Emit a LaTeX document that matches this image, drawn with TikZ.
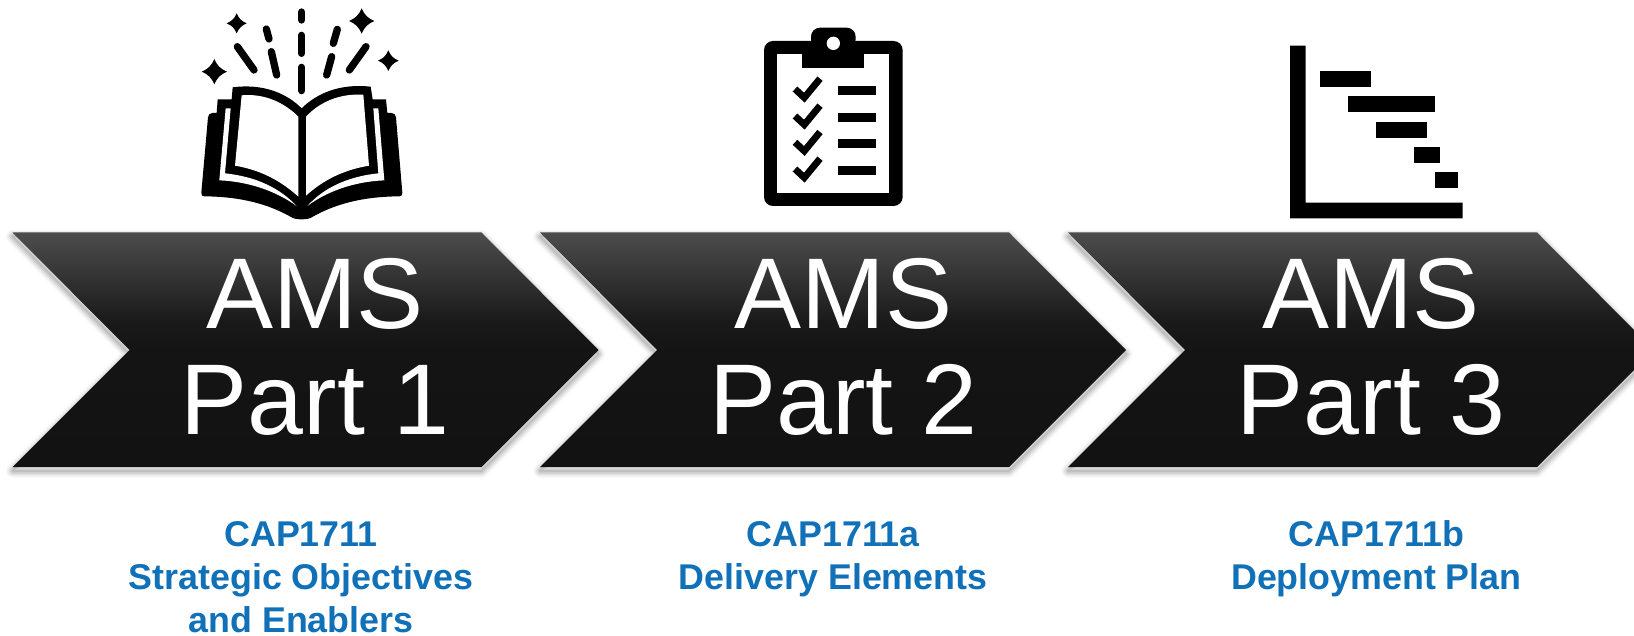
\documentclass[tikz,border=0pt]{standalone}
\usepackage{fontspec}
\setmainfont{Liberation Sans}
\definecolor{capblue}{HTML}{1070B8}
\pgfdeclareverticalshading{chevshade}{100bp}{color(0bp)=(black!93); color(25bp)=(black!93); color(50bp)=(black!92); color(56bp)=(black!90); color(75bp)=(black!70); color(100bp)=(black!70)}
\tikzset{
  bigtext/.style={text=white,anchor=base,inner sep=0pt,font=\fontsize{100.5}{105}\selectfont},
  captext/.style={text=capblue,anchor=base,inner sep=0pt,font=\fontsize{35.8}{42}\selectfont\bfseries},
  ink/.style={fill=black,draw=none},
  paper/.style={fill=white,draw=none},
  ray/.style={draw=black,line width=7.3pt,line cap=round},
  tick/.style={draw=black,line width=6.8pt,miter limit=10}
}
\newcommand{\chevpath}[1]{(#1,232.5) -- ++(469,0) -- ++(117,117.5) -- ++(-117,117) -- ++(-469,0) -- ++(117,-117) -- cycle}
\newcommand{\chevron}[1]{%
  \foreach \w/\o in {14/.025,11/.04,8/.06,5/.07,2/.08}{
    \draw[line width=\w pt,black,opacity=\o,line join=round,yshift=-4pt] \chevpath{#1};
  }
  \shade[shading=chevshade] \chevpath{#1};
}
\newcommand{\sparkle}[3]{\fill[black,shift={(#1,#2)},scale=#3] (-1,0) .. controls (-.45,-.25) and (-.25,-.45) .. (0,-1) .. controls (.25,-.45) and (.45,-.25) .. (1,0) .. controls (.45,.25) and (.25,.45) .. (0,1) .. controls (-.25,.45) and (-.45,.25) .. (-1,0) -- cycle;}
\begin{document}
\begin{tikzpicture}[x=1pt,y=-1pt]
\useasboundingbox (0,0) rectangle (1634,636);
\clip (0,0) rectangle (1634,636);
\fill[white] (0,0) rectangle (1634,636);

\chevron{12.5}
\chevron{540}
\chevron{1068}

\node[bigtext] (ams1) at (315,329) {AMS};
\node[bigtext] (part1) at (315,434) {Part 1};
\node[bigtext] (ams2) at (843.5,329) {AMS};
\node[bigtext] (part2) at (843.5,434) {Part 2};
\node[bigtext] (ams3) at (1371,329) {AMS};
\node[bigtext] (part3) at (1371,434) {Part 3};

\node[captext] (cap1a) at (301,546) {CAP1711};
\node[captext] (cap1b) at (301,589) {Strategic Objectives};
\node[captext] (cap1c) at (301,632) {and Enablers};
\node[captext] (cap2a) at (833.2,546) {CAP1711a};
\node[captext] (cap2b) at (833.2,589) {Delivery Elements};
\node[captext] (cap3a) at (1376.4,546) {CAP1711b};
\node[captext] (cap3b) at (1376.4,589) {Deployment Plan};

% book icon
\begin{scope}[shift={(180,0)},x=.33333pt,y=-.33333pt]
  \fill[ink] (64,578) -- (84,352) .. controls (85,343) and (90,339) .. (98,339) -- (110,339) -- (113,298) -- (155,298) -- (158,262)
    .. controls (250,250) and (320,280) .. (365,325)
    .. controls (410,280) and (480,250) .. (572,260)
    -- (578,298) -- (618,298) -- (622,339) -- (634,339) .. controls (642,339) and (647,343) .. (648,352) -- (667,578)
    .. controls (667,585) and (665,589) .. (658,589)
    .. controls (540,590) and (460,615) .. (395,652)
    .. controls (385,660) and (345,660) .. (335,652)
    .. controls (270,615) and (190,590) .. (72,589)
    .. controls (66,589) and (64,585) .. (64,578) -- cycle;
  \fill[paper] (185,286) .. controls (250,280) and (310,305) .. (355,350) -- (355,590) .. controls (300,540) and (240,510) .. (165,497) -- cycle;
  \fill[paper] (378,350) .. controls (420,305) and (480,280) .. (550,284) -- (567,497) .. controls (490,510) and (430,540) .. (378,587) -- cycle;
  \fill[paper] (137,325) -- (152,325) -- (135,520) .. controls (230,530) and (300,565) .. (350,618) .. controls (290,575) and (210,545) .. (118,541) -- cycle;
  \fill[paper] (580,325) -- (595,325) -- (613,541) .. controls (520,545) and (440,575) .. (382,618) .. controls (430,565) and (500,530) .. (595,520) -- cycle;
  \draw[ray] (365,36) -- (365,60);
  \draw[ray] (365,106) -- (365,160);
  \draw[ray] (365,202) -- (365,272);
  \draw[ray] (259,87) -- (267,117);
  \draw[ray] (274,155) -- (290,225);
  \draw[ray] (172,140) -- (222,210);
  \draw[ray] (472,88) -- (460,130);
  \draw[ray] (455,170) -- (440,225);
  \draw[ray] (558,140) -- (508,210);
  \sparkle{170}{70}{30}
  \sparkle{103}{215}{38}
  \sparkle{545}{63}{38}
  \sparkle{625}{182}{31}
\end{scope}

% clipboard icon
\begin{scope}[shift={(740,15)},x=.33333pt,y=-.33333pt]
  \fill[ink,rounded corners=9pt] (72,78) rectangle (488,573);
  \fill[paper] (112,118) rectangle (447,533);
  \fill[ink,rounded corners=9pt] (213,100) -- (213,38) -- (347,38) -- (347,100) -- cycle;
  \fill[ink] (187,100) rectangle (373,160);
  \fill[paper] (280,85) circle (20);
  \foreach \y in {212,293,371,452}{
    \fill[ink] (293,\y) rectangle (407,\y+28);
  }
  \foreach \y in {0,81,160,240}{
    \draw[tick] (165,222+\y) -- (193,248+\y) -- (240,191+\y);
  }
\end{scope}

% gantt icon
\begin{scope}[shift={(1270,30)},x=.33333pt,y=-.33333pt]
  \fill[ink] (60,47) -- (107,47) -- (107,518) -- (578,518) -- (578,565) -- (60,565) -- cycle;
  \fill[ink] (150,123) rectangle (303,171);
  \fill[ink] (235,199) rectangle (494,245);
  \fill[ink] (318,276) rectangle (471,324);
  \fill[ink] (433,351) rectangle (509,398);
  \fill[ink] (495,426) rectangle (564,474);
\end{scope}
\end{tikzpicture}
\end{document}
